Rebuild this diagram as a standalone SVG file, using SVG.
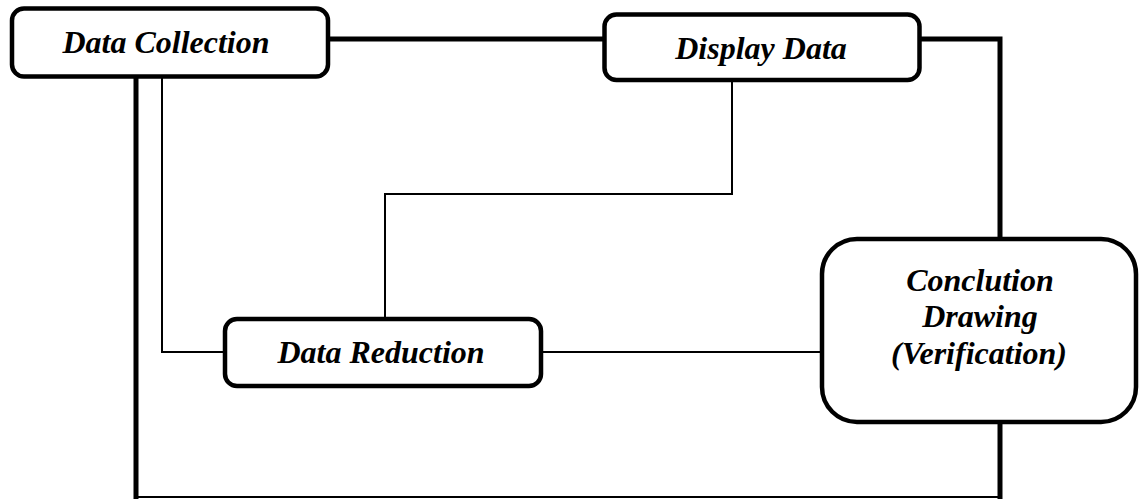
<svg xmlns="http://www.w3.org/2000/svg" width="1139" height="499" viewBox="0 0 1139 499">
<style>
.box{fill:#fff;stroke:#000;stroke-width:4.5}
.thick{fill:none;stroke:#000;stroke-width:5}
.thin{fill:none;stroke:#000;stroke-width:2}
.lbl{font-family:"Liberation Serif","Times New Roman",serif;font-size:32px;font-weight:bold;font-style:italic;fill:#000;text-anchor:middle}
</style>
<rect width="1139" height="499" fill="#fff"/>
<g id="connectors">
<line class="thick" x1="328" y1="39" x2="604" y2="39"/>
<polyline class="thick" points="919,39 1000,39 1000,239"/>
<line class="thick" x1="1000" y1="422" x2="1000" y2="499"/>
<line class="thick" x1="136" y1="77" x2="136" y2="499"/>
<line class="thin" x1="136" y1="497" x2="1000" y2="497"/>
<polyline class="thin" points="162,77 162,352 225,352"/>
<polyline class="thin" points="732,80 732,194 385,194 385,319"/>
<line class="thin" x1="541" y1="352" x2="822" y2="352"/>
</g>
<g id="data-collection">
<rect class="box" x="12" y="8.5" width="316" height="68" rx="12"/>
<text class="lbl" x="166" y="53">Data Collection</text>
</g>
<g id="display-data">
<rect class="box" x="604.5" y="14.5" width="315" height="65.5" rx="12"/>
<text class="lbl" x="761" y="59">Display Data</text>
</g>
<g id="data-reduction">
<rect class="box" x="225" y="319" width="316" height="67" rx="12"/>
<text class="lbl" x="381" y="363">Data Reduction</text>
</g>
<g id="conclusion">
<rect class="box" x="822" y="239" width="314" height="183" rx="35"/>
<text class="lbl" x="980" y="291">Conclution</text>
<text class="lbl" x="980" y="327">Drawing</text>
<text class="lbl" x="979" y="364">(Verification)</text>
</g>
</svg>
